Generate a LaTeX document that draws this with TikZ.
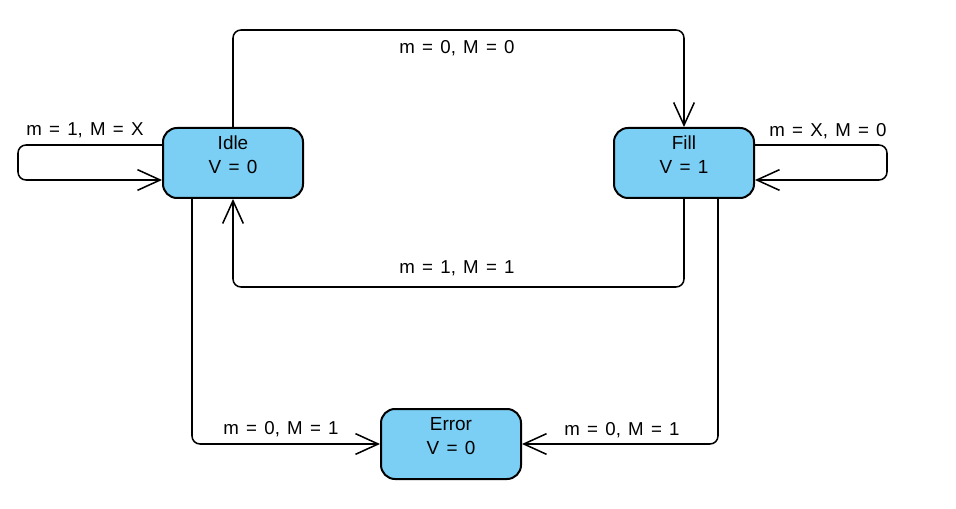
\documentclass[tikz,border=0pt]{standalone}
\usepackage{fontspec}
\setmainfont{Liberation Sans}[WordSpace=1.4]
\usetikzlibrary{arrows.meta,calc}
\definecolor{statefill}{RGB}{123,207,244}
\tikzset{
  state/.style={draw=black, line width=1.5pt, fill=statefill, rounded corners=10.5pt,
    minimum width=105pt, minimum height=52.5pt, inner sep=0pt},
  statetext/.style={align=center, font=\fontsize{14.2}{18}\selectfont, yshift=6pt, inner sep=0pt},
  edge/.style={draw=black, line width=1.15pt, rounded corners=6pt,
    -{Straight Barb[length=17pt,width=15.5pt,line width=1.15pt]}},
  lbl/.style={font=\fontsize{14}{16}\selectfont, inner sep=0pt}
}
\begin{document}
\begin{tikzpicture}[x=0.75pt,y=-0.75pt]
\useasboundingbox (0,0) rectangle (956,509);
\node[state, label={[statetext]center:Idle\\V = 0}] (idle) at (233,163) {};
\node[state, label={[statetext]center:Fill\\V = 1}] (fill) at (684,163) {};
\node[state, label={[statetext]center:Error\\V = 0}] (error) at (451,444) {};
\coordinate (top) at (0,30);
\coordinate (bot) at (0,287);
\draw[edge] (idle.north) -- (idle.north |- top) -| (fill.north);
\draw[edge] (fill.south) -- (fill.south |- bot) -| (idle.south);
\draw[edge] ([yshift=13.5pt]idle.west) -- ++(-144,0) |- ([yshift=-12.75pt]idle.west);
\draw[edge] ([yshift=13.5pt]fill.east) -- ++(132,0) |- ([yshift=-12.75pt]fill.east);
\draw[edge] ([xshift=-30.75pt]idle.south) |- (error.west);
\draw[edge] ([xshift=25.5pt]fill.south) |- (error.east);
\node[lbl] (l1) at (457,48) {m = 0, M = 0};
\node[lbl] (l2) at (457,268) {m = 1, M = 1};
\node[lbl] (l3) at (85,130) {m = 1, M = X};
\node[lbl] (l4) at (828,131) {m = X, M = 0};
\node[lbl] (l5) at (281,429) {m = 0, M = 1};
\node[lbl] (l6) at (622,430) {m = 0, M = 1};
\end{tikzpicture}
\end{document}
